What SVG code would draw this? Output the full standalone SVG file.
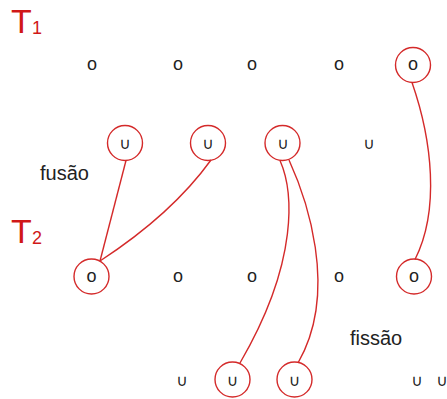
<svg xmlns="http://www.w3.org/2000/svg" width="447" height="399" viewBox="0 0 447 399">
<style>
.o{font-family:"Liberation Sans",Arial,sans-serif;font-size:18px;fill:#222;text-anchor:middle}
.u{font-family:"DejaVu Sans",sans-serif;font-size:16px;fill:#222;text-anchor:middle}
.ring{fill:none;stroke:#d42a2a;stroke-width:1.4}
.lbl{font-family:"Liberation Sans",Arial,sans-serif;font-size:20px;fill:#222}
.T{font-family:"Liberation Sans",Arial,sans-serif;fill:#d01818}
.con{fill:none;stroke:#d42a2a;stroke-width:1.4}
</style>
<rect width="447" height="399" fill="#fff"/>
<g id="T1"><text class="T" x="11" y="33" font-size="34">T</text><text class="T" x="32" y="34" font-size="18">1</text></g>
<g id="T2"><text class="T" x="11" y="243" font-size="34">T</text><text class="T" x="32" y="244" font-size="18">2</text></g>
<g id="lbl-fusao"><text class="lbl" x="40" y="180">fusão</text></g>
<g id="lbl-fissao"><text class="lbl" x="350" y="345">fissão</text></g>
<g id="r1">
<g id="r1a"><text class="o" x="92" y="70">o</text></g>
<g id="r1b"><text class="o" x="178" y="70">o</text></g>
<g id="r1c"><text class="o" x="252" y="70">o</text></g>
<g id="r1d"><text class="o" x="339" y="70">o</text></g>
<g id="r1e"><text class="o" x="413" y="70">o</text><circle class="ring" cx="413" cy="65" r="17.5"/></g>
</g>
<g id="r2">
<g id="r2a"><text class="u" x="125" y="149">∪</text><circle class="ring" cx="125" cy="143" r="17.5"/></g>
<g id="r2b"><text class="u" x="208" y="149">∪</text><circle class="ring" cx="208" cy="143" r="17.5"/></g>
<g id="r2c"><text class="u" x="283" y="149">∪</text><circle class="ring" cx="282.5" cy="143" r="17.5"/></g>
<g id="r2d"><text class="u" x="369" y="149">∪</text></g>
</g>
<g id="r3">
<g id="r3a"><text class="o" x="91.5" y="281.5">o</text><circle class="ring" cx="91.5" cy="276.5" r="17.5"/></g>
<g id="r3b"><text class="o" x="178" y="281.5">o</text></g>
<g id="r3c"><text class="o" x="252" y="281.5">o</text></g>
<g id="r3d"><text class="o" x="339" y="281.5">o</text></g>
<g id="r3e"><text class="o" x="414" y="281.5">o</text><circle class="ring" cx="414" cy="276.5" r="17.5"/></g>
</g>
<g id="r4">
<g id="r4a"><text class="u" x="182" y="385.5">∪</text></g>
<g id="r4b"><text class="u" x="232.5" y="385.5">∪</text><circle class="ring" cx="232.5" cy="379.5" r="17.5"/></g>
<g id="r4c"><text class="u" x="294.5" y="385.5">∪</text><circle class="ring" cx="294.5" cy="379.5" r="17.5"/></g>
<g id="r4d"><text class="u" x="417" y="385.5">∪</text></g>
<g id="r4e"><text class="u" x="442" y="385.5">∪</text></g>
</g>
<g id="connectors">
<path class="con" d="M126 160.5 L100 261"/>
<path class="con" d="M211 160 Q172 214 100 261"/>
<path class="con" d="M280 160.5 C293 190 300 260 240 363"/>
<path class="con" d="M289 160 C305 195 340 290 298 363"/>
<path class="con" d="M412 82.5 C432 140 440 210 415 259.5"/>
</g>
</svg>
